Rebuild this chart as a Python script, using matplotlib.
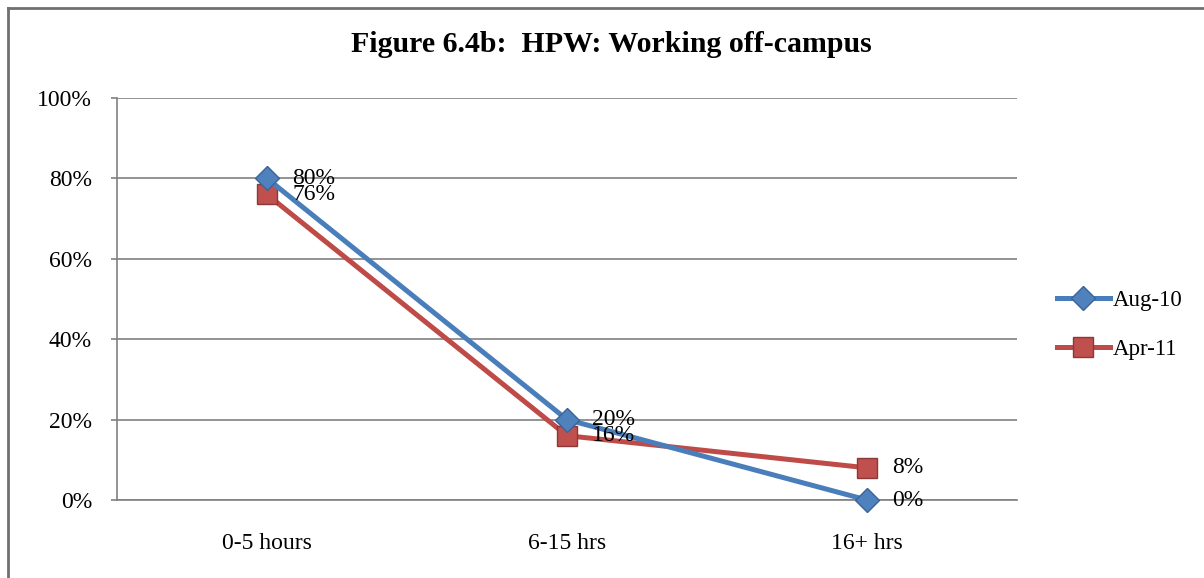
import matplotlib
matplotlib.use("Agg")
import matplotlib.pyplot as plt
from matplotlib.lines import Line2D

categories = ["0-5 hours", "6-15 hrs", "16+ hrs"]
aug10 = [80, 20, 0]
apr11 = [76, 16, 8]
series_names = ["Aug-10", "Apr-11"]
yticks = [0, 20, 40, 60, 80, 100]

plt.rcParams['font.family'] = ['Liberation Serif', 'DejaVu Serif']

fig = plt.figure(figsize=(12.04, 5.78), dpi=100)
ax = fig.add_axes([117/1204, 1-500/578, 900/1204, 402/578])

x = list(range(len(categories)))
blue, blue_e = "#4A7EBB", "#3A6496"
red, red_e = "#BE4B48", "#8C3836"

l1, = ax.plot(x, aug10, color=blue, lw=3.6, marker="D", ms=12,
              markerfacecolor="#4F81BD", markeredgecolor=blue_e, markeredgewidth=1,
              zorder=4, label=series_names[0], clip_on=False)
l2, = ax.plot(x, apr11, color=red, lw=3.6, marker="s", ms=14,
              markerfacecolor="#C0504D", markeredgecolor=red_e, markeredgewidth=1,
              zorder=3, label=series_names[1], clip_on=False)

for xi, v in zip(x, aug10):
    ax.annotate(f"{v}%", (xi, v), xytext=(18, 0), textcoords="offset points",
                va="center", ha="left", fontsize=17, zorder=5)
for xi, v in zip(x, apr11):
    ax.annotate(f"{v}%", (xi, v), xytext=(18, 0), textcoords="offset points",
                va="center", ha="left", fontsize=17, zorder=5)

ax.set_xlim(-0.5, 2.5)
ax.set_ylim(0, 100)
ax.set_yticks(yticks)
ax.set_yticklabels([f"{t}%" for t in yticks], fontsize=17)
ax.set_xticks(x)
ax.set_xticklabels(categories, fontsize=17)
ax.tick_params(axis="x", length=0, pad=24)
ax.tick_params(axis="y", length=4, width=1.2, color="#808080", pad=14, direction="out")
ax.yaxis.grid(True, color="#808080", lw=1.2)
ax.set_axisbelow(True)
for s in ["top", "right"]:
    ax.spines[s].set_visible(False)
for s in ["left", "bottom"]:
    ax.spines[s].set_color("#808080")
    ax.spines[s].set_linewidth(1.2)

fig.text(611/1204, 1-45/578, "Figure 6.4b:  HPW: Working off-campus",
         ha="center", va="center", fontsize=21.5, fontweight="bold")

leg = fig.legend(handles=[l1, l2], loc="center left",
                 bbox_to_anchor=(1057/1204, 1-325/578), frameon=False,
                 borderaxespad=0, borderpad=0,
                 fontsize=16.5, handlelength=2.3, handletextpad=0.12, labelspacing=1.2)

# outer chart border (top and left visible)
fig.add_artist(Line2D([8/1204, 8/1204], [0, 1-8/578], transform=fig.transFigure,
                      color="#707070", lw=2))
fig.add_artist(Line2D([8/1204, 1], [1-8/578, 1-8/578], transform=fig.transFigure,
                      color="#707070", lw=2))

fig.savefig("out.png", dpi=100)
